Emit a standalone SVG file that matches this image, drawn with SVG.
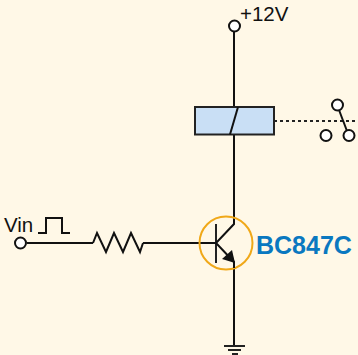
<svg xmlns="http://www.w3.org/2000/svg" width="358" height="355" viewBox="0 0 358 355">
<style>
.w{fill:none;stroke:#111;stroke-width:2;stroke-linejoin:miter}
.t{fill:#fff;stroke:#111;stroke-width:2}
.l{font-family:"Liberation Sans",Arial,sans-serif;font-size:20.500px;fill:#111}
</style>
<rect width="358" height="355" fill="#fff8e7"/>
<g id="connectors">
<path class="w" d="M234 32V107M234 135V219M234 268V345"/>
<path class="w" d="M27 243H93M143 243H216"/>
<path d="M274 121H358" fill="none" stroke="#222" stroke-width="2" stroke-dasharray="3 3"/>
</g>
<g id="vcc"><circle class="t" cx="234.500" cy="26" r="5.500"/><text class="l" x="240" y="21">+12V</text></g>
<g id="relay"><rect x="195" y="107" width="79" height="27.500" fill="#c9dff5" stroke="#222" stroke-width="2"/><path class="w" d="M238 107L230 134.500"/></g>
<g id="switch"><path class="w" d="M339 110L347 131"/><circle class="t" cx="337.500" cy="105" r="5.500"/><circle class="t" cx="326" cy="135.500" r="5.500"/><circle class="t" cx="349" cy="135.500" r="5.500"/></g>
<g id="vin"><circle class="t" cx="20.500" cy="243" r="5.500"/><text class="l" x="4" y="232">Vin</text><path class="w" d="M38 233H46V218H62V233H70"/></g>
<g id="resistor"><path class="w" d="M93 243L97 233L106 252L114 233L123 252L131 233L140 252L143 243"/></g>
<g id="transistor"><circle cx="226" cy="243" r="26.500" fill="none" stroke="#f0a818" stroke-width="2"/><path d="M216 224V263" fill="none" stroke="#222" stroke-width="2"/><path class="w" d="M234 219V224L216 243L234 262V268"/><path d="M235 263L222 259L232 250Z" fill="#111"/></g>
<g id="label"><text x="256" y="254" font-family="'Liberation Sans',Arial,sans-serif" font-size="25px" font-weight="700" fill="#0a78c0">BC847C</text></g>
<g id="ground"><path d="M224 346H245M228 350H241M232 354H238" fill="none" stroke="#222" stroke-width="2"/></g>
</svg>
